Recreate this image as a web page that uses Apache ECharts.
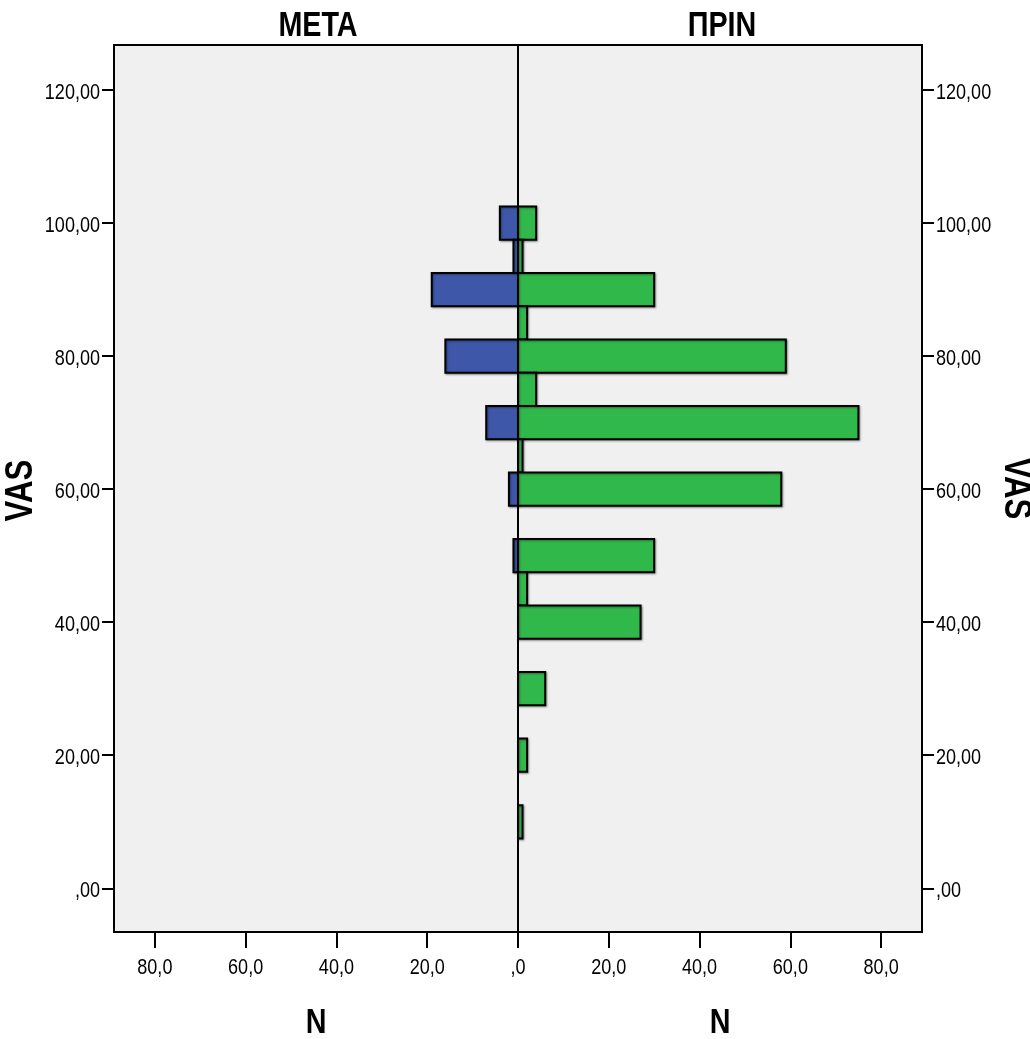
<!DOCTYPE html>
<html>
<head>
<meta charset="utf-8">
<script src="https://cdn.jsdelivr.net/npm/echarts@6/dist/echarts.min.js"></script>
<style>
html, body { margin: 0; padding: 0; background: #fff; }
#main { width: 1030px; height: 1039px; }
</style>
</head>
<body>
<div id="main"></div>
<script>
// VAS levels (bar centres) and counts per group
var vasLevels = [100, 95, 90, 85, 80, 75, 70, 65, 60, 55, 50, 45, 40, 35, 30, 25, 20, 15, 10]
var metaCounts = [4, 1, 19, 0, 16, 0, 7, 0, 2, 0, 1, 0, 0, 0, 0, 0, 0, 0, 0]
var prinCounts = [4, 1, 30, 2, 59, 4, 75, 1, 58, 0, 30, 2, 27, 0, 6, 0, 2, 0, 1]
var vasTicks = [0, 20, 40, 60, 80, 100, 120]
var nTicks = [0, 20, 40, 60, 80]
var groupNames = ['ΜΕΤΑ', 'ΠΡΙΝ']

// narrow look: Liberation Sans squeezed horizontally
var FONT = "'Liberation Sans', Arial, sans-serif"
var NARROW = 0.82
var HALF = 2.5

var GRID_TOP = 45
var GRID_BOTTOM = 107
var GRID_LEFT = 114
var GRID_RIGHT = 108
var MID = 518

function toPairs (counts) {
  var out = []
  for (var i = 0; i < vasLevels.length; i++) {
    if (counts[i] > 0) out.push([counts[i], vasLevels[i]])
  }
  return out
}

function renderBar (params, api) {
  var p0 = api.coord([0, api.value(1) + HALF])
  var p1 = api.coord([api.value(0), api.value(1) - HALF])
  return {
    type: 'rect',
    shape: {
      x: Math.min(p0[0], p1[0]),
      y: p0[1],
      width: Math.abs(p1[0] - p0[0]),
      height: p1[1] - p0[1]
    },
    style: {
      fill: api.visual('color'),
      stroke: '#000',
      lineWidth: 2,
      shadowBlur: 2,
      shadowOffsetX: 1,
      shadowOffsetY: 1,
      shadowColor: 'rgba(0,0,0,0.35)'
    }
  }
}

function vasLabel (v) {
  return v === 0 ? ',00' : v.toFixed(2).replace('.', ',')
}
function nLabel (v) {
  return v === 0 ? ',0' : v.toFixed(1).replace('.', ',')
}

function xAxisFor (gridIndex, inverse) {
  return {
    type: 'value',
    gridIndex: gridIndex,
    inverse: inverse,
    min: 0,
    max: 89,
    axisLine: { show: true, onZero: false, lineStyle: { color: '#000', width: 2 } },
    axisTick: { show: true, length: 16, customValues: nTicks, lineStyle: { color: '#000', width: 2 } },
    axisLabel: { show: false },
    splitLine: { show: false }
  }
}

function yAxisFor (gridIndex, position) {
  return {
    type: 'value',
    gridIndex: gridIndex,
    position: position,
    min: -6.57,
    max: 126.76,
    axisLine: { show: true, onZero: false, lineStyle: { color: '#000', width: 2 } },
    axisTick: { show: true, length: 12, customValues: vasTicks, lineStyle: { color: '#000', width: 2 } },
    axisLabel: { show: false },
    splitLine: { show: false }
  }
}

function narrowText (x, y, text, size, bold, align, rotation) {
  return {
    type: 'text',
    x: x,
    y: y,
    rotation: rotation || 0,
    scaleX: NARROW,
    silent: true,
    style: {
      text: text,
      fontFamily: FONT,
      fontSize: size,
      fontWeight: bold ? 'bold' : 'normal',
      fill: '#000',
      align: align,
      verticalAlign: 'middle'
    }
  }
}

var myChart = echarts.init(document.getElementById('main'))
var option = {
  backgroundColor: '#fff',
  animation: false,
  grid: [
    { left: GRID_LEFT, right: 1030 - MID, top: GRID_TOP, bottom: GRID_BOTTOM, containLabel: false, outerBoundsMode: 'none',
      show: true, backgroundColor: '#f0f0f0', borderColor: '#000', borderWidth: 2 },
    { left: MID, right: GRID_RIGHT, top: GRID_TOP, bottom: GRID_BOTTOM, containLabel: false, outerBoundsMode: 'none',
      show: true, backgroundColor: '#f0f0f0', borderColor: '#000', borderWidth: 2 }
  ],
  xAxis: [xAxisFor(0, true), xAxisFor(1, false)],
  yAxis: [yAxisFor(0, 'left'), yAxisFor(1, 'right')],
  series: [
    {
      name: groupNames[0],
      type: 'custom',
      xAxisIndex: 0,
      yAxisIndex: 0,
      itemStyle: { color: '#3e57a9' },
      encode: { x: 0, y: 1 },
      renderItem: renderBar,
      data: toPairs(metaCounts)
    },
    {
      name: groupNames[1],
      type: 'custom',
      xAxisIndex: 1,
      yAxisIndex: 1,
      itemStyle: { color: '#31b84a' },
      encode: { x: 0, y: 1 },
      renderItem: renderBar,
      data: toPairs(prinCounts)
    }
  ]
}
myChart.setOption(option)

// texts placed from the axes' own pixel mapping
var H = 1039
var W = 1030
var plotBottom = H - GRID_BOTTOM
var rightEdge = W - GRID_RIGHT
var texts = []
vasTicks.forEach(function (v) {
  var y = myChart.convertToPixel({ yAxisIndex: 0 }, v) + 3
  texts.push(narrowText(GRID_LEFT - 14, y, vasLabel(v), 22, false, 'right'))
  texts.push(narrowText(rightEdge + 14, y, vasLabel(v), 22, false, 'left'))
})
nTicks.forEach(function (v) {
  texts.push(narrowText(myChart.convertToPixel({ xAxisIndex: 0 }, v), plotBottom + 36, nLabel(v), 22, false, 'center'))
  if (v !== 0) {
    texts.push(narrowText(myChart.convertToPixel({ xAxisIndex: 1 }, v), plotBottom + 36, nLabel(v), 22, false, 'center'))
  }
})
var leftMid = (GRID_LEFT + MID) / 2
var rightMid = (MID + rightEdge) / 2
var plotMidY = (GRID_TOP + plotBottom) / 2
texts.push(narrowText(leftMid + 2, 26, groupNames[0], 35, true, 'center'))
texts.push(narrowText(rightMid + 2, 26, groupNames[1], 35, true, 'center'))
texts.push(narrowText(leftMid, plotBottom + 91, 'N', 35, true, 'center'))
texts.push(narrowText(rightMid, plotBottom + 91, 'N', 35, true, 'center'))
texts.push(narrowText(22, plotMidY + 2, 'VAS', 38, true, 'center', Math.PI / 2))
texts.push(narrowText(W - 15, plotMidY, 'VAS', 38, true, 'center', -Math.PI / 2))

myChart.setOption({ graphic: texts })
</script>
</body>
</html>
